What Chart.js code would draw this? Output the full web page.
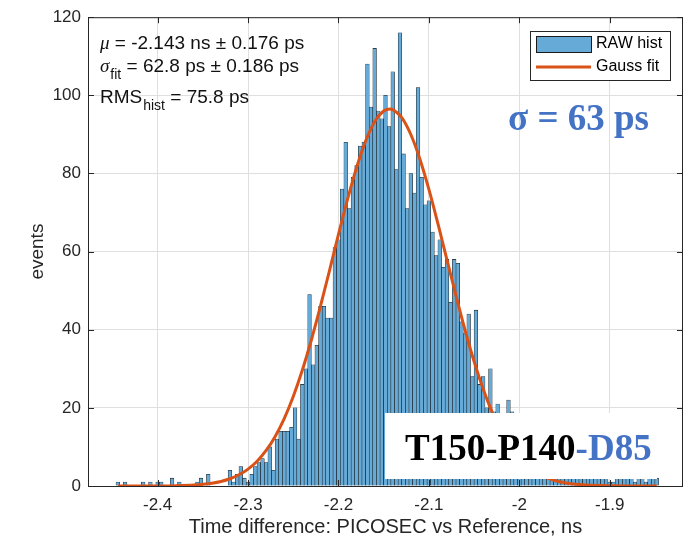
<!DOCTYPE html>
<html>
<head>
<meta charset="utf-8">
<script src="https://cdn.jsdelivr.net/npm/chart.js@4.4.1/dist/chart.umd.min.js"></script>
<style>
  html, body { margin: 0; padding: 0; background: #fff; }
  canvas { display: block; }
</style>
</head>
<body>
<canvas id="hist" width="684" height="542"></canvas>
<script>
// histogram bins: 150 bins of 4 ps, first bin starts at -2.446 ns
const binStart = -2.446;
const binWidth = 0.004;
const counts = [
  1, 0, 1, 0, 0, 0, 0, 1, 0, 1,
  0, 1, 1, 0, 0, 2, 0, 1, 0, 0,
  0, 0, 1, 2, 0, 3, 0, 0, 0, 0,
  0, 4, 1, 3, 5, 2, 1, 3, 5, 6,
  7, 6, 10, 4, 12, 14, 14, 14, 15, 20,
  12, 26, 30, 49, 31, 36, 46, 46, 43, 43,
  61, 63, 76, 88, 71, 79, 82, 87, 88, 108,
  97, 112, 96, 94, 100, 92, 106, 81, 116, 85,
  71, 80, 75, 102, 79, 72, 73, 65, 59, 63,
  56, 58, 47, 58, 57, 42, 39, 44, 28, 45,
  26, 28, 20, 30, 19, 21, 15, 13, 22, 19,
  14, 12, 13, 10, 11, 9, 8, 9, 7, 6,
  7, 5, 6, 4, 5, 4, 3, 4, 3, 3,
  2, 3, 2, 2, 3, 2, 1, 1, 2, 2,
  2, 3, 2, 1, 2, 2, 1, 2, 2, 2
];

// gauss fit curve
const fitX = [-2.444, -2.42, -2.40, -2.38, -2.36, -2.35, -2.34, -2.33, -2.32, -2.31,
  -2.30, -2.29, -2.28, -2.27, -2.26, -2.25, -2.24, -2.23, -2.22, -2.21,
  -2.20, -2.19, -2.18, -2.17, -2.16, -2.15, -2.143, -2.14, -2.13, -2.12,
  -2.11, -2.10, -2.09, -2.08, -2.07, -2.06, -2.05, -2.04, -2.03, -2.02,
  -2.01, -2.00, -1.99, -1.98, -1.97, -1.96, -1.95, -1.94, -1.93, -1.91,
  -1.89, -1.87, -1.848];
const fitY = [0.00, 0.01, 0.02, 0.08, 0.25, 0.43, 0.72, 1.17, 1.86, 2.87,
  4.33, 6.35, 9.09, 12.69, 17.26, 22.91, 29.63, 37.37, 45.95, 55.09,
  64.39, 73.37, 81.50, 88.28, 93.23, 95.98, 96.50, 96.35, 94.30, 89.98,
  83.71, 75.92, 67.13, 57.88, 48.65, 39.87, 31.86, 24.82, 18.85, 13.95,
  10.07, 7.09, 4.87, 3.26, 2.12, 1.35, 0.84, 0.51, 0.30, 0.10,
  0.03, 0.01, 0.00];

const xTicks = [-2.4, -2.3, -2.2, -2.1, -2, -1.9];
const yTicks = [0, 20, 40, 60, 80, 100, 120];

const statLines = [
  { sym: 'μ', sub: '', rest: ' = -2.143 ns ± 0.176 ps' },
  { sym: 'σ', sub: 'fit', rest: ' = 62.8 ps ± 0.186 ps' },
  { sym: 'RMS', sub: 'hist', rest: ' = 75.8 ps' }
];
const sigmaText = 'σ = 63 ps';
const runName = 'T150-P140';
const detName = '-D85';

const sans = '"Liberation Sans", Arial, Helvetica, sans-serif';
const serif = '"Liberation Serif", "Times New Roman", serif';
const axisColor = '#262626';
const gridColor = '#dfdfdf';
const barFill = '#66aad7';
const barEdge = 'rgba(0,0,0,0.9)';
const orange = '#d95319';
const blue = '#4472c4';

const matlabBox = {
  id: 'matlabBox',
  afterDatasetsDraw(chart) {
    const { ctx, chartArea: a, scales: { x, y } } = chart;
    ctx.save();
    ctx.strokeStyle = axisColor;
    ctx.lineWidth = 1;
    ctx.beginPath();
    xTicks.forEach(v => {
      const px = Math.round(x.getPixelForValue(v)) + 0.5;
      ctx.moveTo(px, a.bottom); ctx.lineTo(px, a.bottom - 6);
      ctx.moveTo(px, a.top); ctx.lineTo(px, a.top + 6);
    });
    yTicks.forEach(v => {
      const py = Math.round(y.getPixelForValue(v)) + 0.5;
      ctx.moveTo(a.left, py); ctx.lineTo(a.left + 6, py);
      ctx.moveTo(a.right, py); ctx.lineTo(a.right - 6, py);
    });
    ctx.stroke();
    ctx.strokeRect(a.left + 0.5, a.top + 0.5, a.right - a.left - 1, a.bottom - a.top);
    ctx.restore();
  },
  afterDraw(chart) {
    const { ctx, chartArea: a } = chart;
    ctx.save();
    ctx.textBaseline = 'alphabetic';

    // fit results, top left
    const baselines = [49, 72, 103];
    statLines.forEach((ln, i) => {
      let cx = a.left + 12;
      const by = baselines[i];
      ctx.fillStyle = '#111';
      ctx.font = (ln.sym === 'RMS' ? '19px ' + sans : 'italic 19px ' + serif);
      ctx.fillText(ln.sym, cx, by);
      cx += ctx.measureText(ln.sym).width;
      if (ln.sub) {
        ctx.font = '14px ' + sans;
        ctx.fillText(ln.sub, cx + 1, by + 7);
        cx += ctx.measureText(ln.sub).width + 1;
      }
      ctx.font = '19px ' + sans;
      ctx.fillText(ln.rest, cx, by);
    });

    // legend
    ctx.fillStyle = '#fff';
    ctx.fillRect(530, 31, 140, 49);
    ctx.strokeStyle = axisColor;
    ctx.lineWidth = 1;
    ctx.strokeRect(530.5, 31.5, 140, 49);
    ctx.fillStyle = barFill;
    ctx.fillRect(536, 36, 55, 16);
    ctx.strokeStyle = '#1a1a1a';
    ctx.strokeRect(536.5, 36.5, 55, 16);
    ctx.strokeStyle = orange;
    ctx.lineWidth = 3;
    ctx.beginPath();
    ctx.moveTo(536, 67); ctx.lineTo(591, 67);
    ctx.stroke();
    ctx.fillStyle = '#000';
    ctx.font = '16px ' + sans;
    ctx.textBaseline = 'middle';
    ctx.fillText(chart.data.datasets[1].label, 596, 44);
    ctx.fillText(chart.data.datasets[0].label, 596, 67);

    // big sigma label
    ctx.textBaseline = 'alphabetic';
    ctx.fillStyle = blue;
    ctx.font = 'bold 37px ' + serif;
    ctx.fillText(sigmaText, 508, 130);

    // run label box, bottom right
    ctx.fillStyle = '#fff';
    ctx.fillRect(385, 413, 272, 66);
    ctx.font = 'bold 37px ' + serif;
    ctx.fillStyle = '#000';
    ctx.fillText(runName, 405, 460);
    const w = ctx.measureText(runName).width;
    ctx.fillStyle = blue;
    ctx.fillText(detName, 405 + w, 460);
    ctx.restore();
  }
};

new Chart(document.getElementById('hist'), {
  type: 'bar',
  data: {
    datasets: [
      {
        type: 'line',
        label: 'Gauss fit',
        data: fitX.map((v, i) => ({ x: v, y: fitY[i] })),
        borderColor: orange,
        borderWidth: 3,
        pointRadius: 0,
        cubicInterpolationMode: 'monotone',
        order: 0
      },
      {
        type: 'bar',
        label: 'RAW hist',
        data: counts.map((c, i) => ({ x: binStart + binWidth * (i + 0.5), y: c })),
        backgroundColor: barFill,
        borderColor: barEdge,
        borderWidth: 0.55,
        barPercentage: 1,
        categoryPercentage: 1,
        order: 1
      }
    ]
  },
  options: {
    responsive: false,
    animation: false,
    layout: { padding: { top: 16, right: 1, left: 0, bottom: 0 } },
    plugins: { legend: { display: false }, tooltip: { enabled: false } },
    scales: {
      x: {
        type: 'linear',
        min: -2.477,
        max: -1.819,
        offset: false,
        afterBuildTicks: s => { s.ticks = xTicks.map(v => ({ value: v })); },
        afterFit: s => { s.height = 56; },
        ticks: { font: { size: 17, family: sans }, color: axisColor, padding: 9, maxRotation: 0, callback: v => String(v) },
        grid: { color: gridColor, drawTicks: false, offset: false },
        border: { display: false },
        title: { display: true, text: 'Time difference: PICOSEC vs Reference, ns', font: { size: 20, family: sans }, color: axisColor, padding: { top: 0, bottom: 3 } }
      },
      y: {
        min: 0,
        max: 120,
        afterBuildTicks: s => { s.ticks = yTicks.map(v => ({ value: v })); },
        afterFit: s => { s.width = 88; },
        ticks: { font: { size: 17, family: sans }, color: axisColor, padding: 7, callback: v => String(v) },
        grid: { color: gridColor, drawTicks: false },
        border: { display: false },
        title: { display: true, text: 'events', font: { size: 19, family: sans }, color: axisColor, padding: { top: 26, bottom: 0 } }
      }
    }
  },
  plugins: [matlabBox]
});
</script>
</body>
</html>
